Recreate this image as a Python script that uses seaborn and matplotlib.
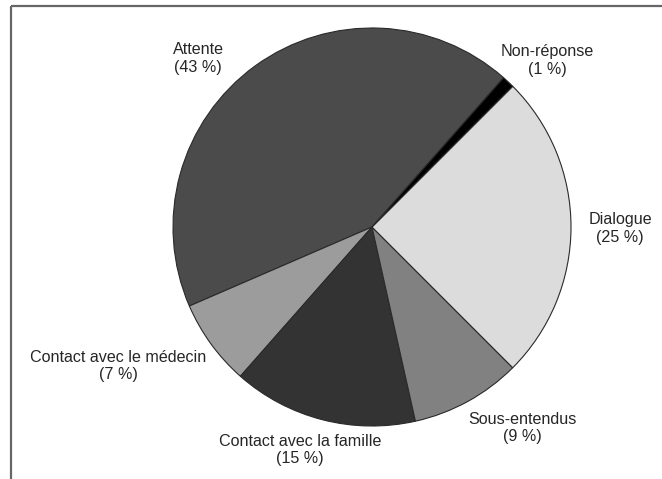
import matplotlib
matplotlib.use("Agg")
import matplotlib.pyplot as plt
import seaborn as sns

# slices, counter-clockwise from the Attente / Non-réponse edge
categories = ["Attente", "Contact avec le médecin", "Contact avec la famille",
              "Sous-entendus", "Dialogue", "Non-réponse"]
shares = [43, 7, 15, 9, 25, 1]

colors = ["#4b4b4b", "#9c9c9c", "#333333", "#818181", "#dcdcdc", "#000000"]
# label anchor (pixels from top-left of the figure)
label_pos = [(198, 58), (118, 366), (300, 450), (522, 428), (620, 228), (547, 60)]

sns.set_style("white")
plt.rcParams["font.family"] = ["Liberation Sans", "DejaVu Sans"]

W, H = 662, 479
fig = plt.figure(figsize=(W / 100, H / 100), dpi=100)
ax = fig.add_axes([0, 0, 1, 1])

ax.pie(shares, colors=colors, startangle=48.6, counterclock=True,
       center=(372, H - 227), radius=199,
       wedgeprops=dict(edgecolor="#2a2a2a", linewidth=0.8))

for cat, val, (x, y) in zip(categories, shares, label_pos):
    ax.text(x, H - y, f"{cat}\n({val} %)", ha="center", va="center",
            fontsize=11.6, color="#262626", linespacing=1.25)

# frame lines (top and left only, the picture is cropped)
ax.plot([11, W], [H - 6, H - 6], color="#666666", lw=1.6, solid_capstyle="butt")
ax.plot([11, 11], [H - 6, 0], color="#666666", lw=1.6, solid_capstyle="butt")

ax.set_xlim(0, W)
ax.set_ylim(0, H)
ax.set_aspect("equal")
ax.axis("off")

fig.savefig("out.png", dpi=100, facecolor="white")
